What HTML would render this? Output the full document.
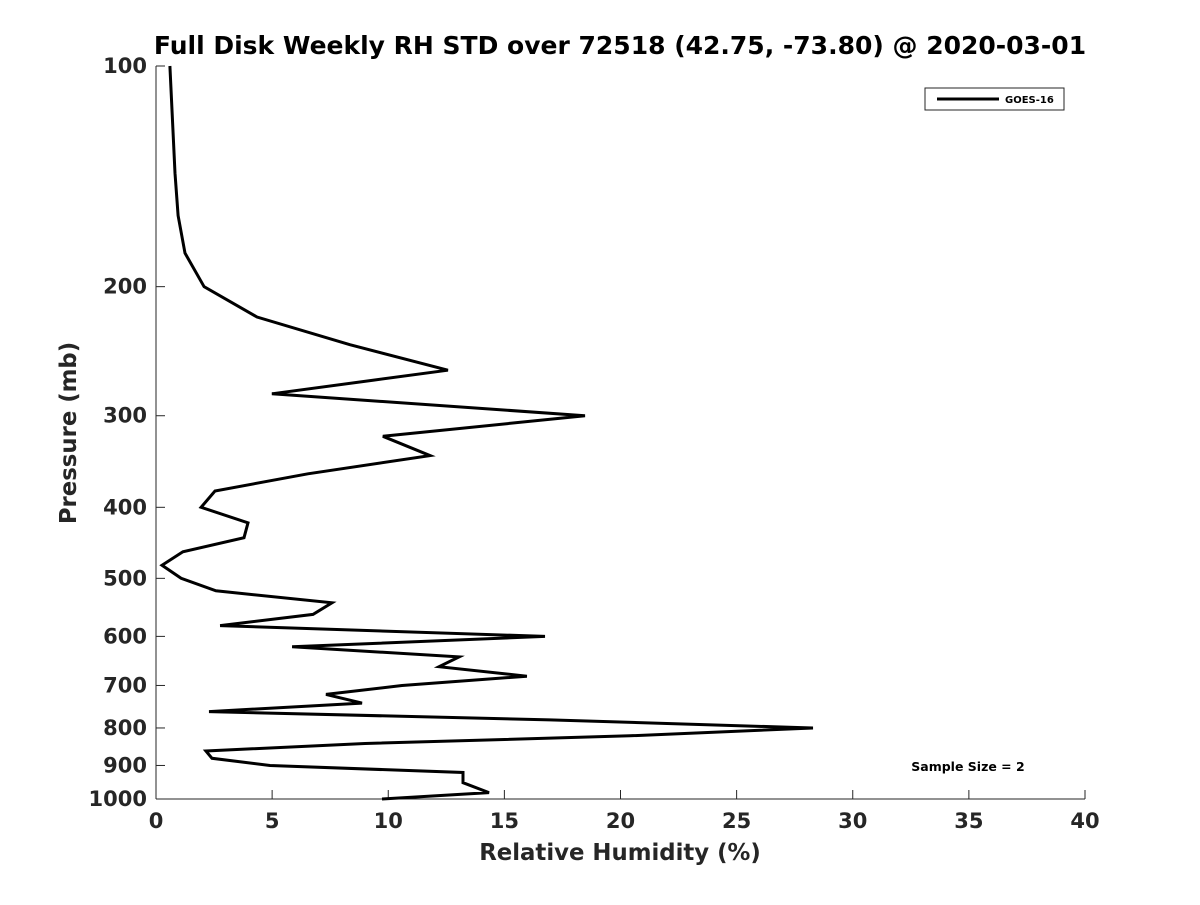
<!DOCTYPE html>
<html><head><meta charset="utf-8"><style>
body{margin:0;background:#fff;}
svg text{font-family:"DejaVu Sans","Liberation Sans",sans-serif;font-weight:bold;fill:#262626;}
</style></head><body>
<svg id="chart" width="1200" height="900" xmlns="http://www.w3.org/2000/svg">
<rect width="1200" height="900" fill="#fff"/>
<text x="620" y="54" font-size="25" text-anchor="middle" style="fill:#000">Full Disk Weekly RH STD over 72518 (42.75, -73.80) @ 2020-03-01</text>
<g id="axes"></g>
<g id="series"></g>
<text x="620" y="860" font-size="22.8" text-anchor="middle">Relative Humidity (%)</text>
<text transform="translate(76,433) rotate(-90)" font-size="22.8" text-anchor="middle">Pressure (mb)</text>
<g>
<rect x="925" y="88" width="139" height="22" fill="#fff" stroke="#262626" stroke-width="1"/>
<line x1="937" y1="99" x2="999" y2="99" stroke="#000" stroke-width="3"/>
<text x="1005" y="103" font-size="10" style="fill:#000">GOES-16</text>
</g>
<text x="968" y="771" font-size="12.5" text-anchor="middle" style="fill:#000">Sample Size = 2</text>
</svg>
<script>
const xTicks=[0,5,10,15,20,25,30,35,40];
const yTicks=[100,200,300,400,500,600,700,800,900,1000];
const pressure=[100,140,160,180,200,220,240,260,280,300,320,340,360,380,400,420,440,460,480,500,520,540,560,580,600,620,640,660,680,700,720,740,760,780,800,820,840,860,880,900,920,950,980,1000];
const rhStd=[0.60,0.82,0.95,1.25,2.07,4.35,8.35,12.57,4.99,18.47,9.77,11.80,6.54,2.54,1.94,3.96,3.79,1.16,0.26,1.08,2.58,7.58,6.76,2.76,16.75,5.86,13.05,12.19,15.97,10.59,7.32,8.87,2.28,16.96,28.29,20.41,9.0,2.15,2.41,4.91,13.22,13.22,14.34,9.73];
const X0=156,X1=1085,Y0=66,Y1=799;
const xs=v=>X0+(v-0)/(40-0)*(X1-X0);
const ys=p=>Y0+(Math.log10(p)-2)/(3-2)*(Y1-Y0);
const NS="http://www.w3.org/2000/svg";
function mk(t,a){const e=document.createElementNS(NS,t);for(const k in a)e.setAttribute(k,a[k]);return e;}
const ax=document.getElementById('axes');
const xl=mk('line',{x1:X0,y1:Y1,x2:X1,y2:Y1,stroke:'#262626','stroke-width':1});


ax.appendChild(xl);
const yl=mk('line',{x1:X0,y1:Y0,x2:X0,y2:Y1,stroke:'#262626','stroke-width':1});


ax.appendChild(yl);
xTicks.forEach(v=>{
 const x=xs(v);
 ax.appendChild(mk('line',{x1:x,y1:Y1,x2:x,y2:Y1-9,stroke:'#262626'}));
 const t=mk('text',{x:x,y:Y1+29,'font-size':21,'text-anchor':'middle'});
 t.textContent=v;
 
 
 ax.appendChild(t);
});
yTicks.forEach(p=>{
 const y=ys(p);
 ax.appendChild(mk('line',{x1:X0,y1:y,x2:X0+9,y2:y,stroke:'#262626'}));
 const t=mk('text',{x:X0-9,y:y+7,'font-size':21,'text-anchor':'end'});
 t.textContent=p;
 
 
 ax.appendChild(t);
});
const pts=pressure.map((p,i)=>xs(rhStd[i]).toFixed(1)+','+ys(p).toFixed(1)).join(' ');
const pl=mk('polyline',{points:pts,fill:'none',stroke:'#000','stroke-width':3,'stroke-linejoin':'miter'});


document.getElementById('series').appendChild(pl);
</script>
</body></html>
